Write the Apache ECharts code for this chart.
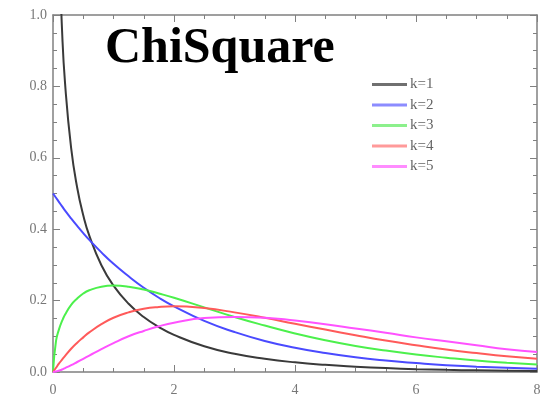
<!DOCTYPE html>
<html>
<head>
<meta charset="utf-8">
<script src="https://cdn.jsdelivr.net/npm/echarts@6/dist/echarts.min.js"></script>
<style>
  html, body { margin: 0; padding: 0; background: #fff; }
  #chart { width: 544px; height: 394px; }
</style>
</head>
<body>
<div id="chart"></div>
<script>
const xs = [0, 0.05, 0.1, 0.15, 0.2, 0.3, 0.4, 0.5, 0.6, 0.8, 1, 1.25, 1.5, 1.75, 2,
  2.5, 3, 3.5, 4, 4.5, 5, 5.5, 6, 6.5, 7, 7.5, 8]

const k1 = [null, null, 1.2, 0.956, 0.807, 0.627, 0.516, 0.439, 0.382, 0.299, 0.242, 0.191,
  0.154, 0.126, 0.104, 0.072, 0.051, 0.037, 0.027, 0.020, 0.015, 0.011, 0.008, 0.006,
  0.0046, 0.0034, 0.0026]
const k2 = [0.5, 0.488, 0.476, 0.464, 0.452, 0.430, 0.409, 0.389, 0.370, 0.335, 0.303, 0.268,
  0.236, 0.208, 0.184, 0.143, 0.112, 0.087, 0.068, 0.053, 0.041, 0.032, 0.025, 0.019,
  0.015, 0.012, 0.009]
const k3 = [0, 0.087, 0.120, 0.143, 0.161, 0.188, 0.206, 0.220, 0.229, 0.239, 0.242, 0.239,
  0.231, 0.220, 0.208, 0.181, 0.154, 0.130, 0.108, 0.089, 0.073, 0.060, 0.049, 0.040,
  0.032, 0.026, 0.021]
const k4 = [0, 0.012, 0.024, 0.035, 0.045, 0.065, 0.082, 0.097, 0.111, 0.134, 0.152, 0.167,
  0.177, 0.182, 0.184, 0.179, 0.167, 0.152, 0.135, 0.119, 0.103, 0.088, 0.075, 0.063,
  0.053, 0.044, 0.037]
const k5 = [0, 0.0015, 0.004, 0.007, 0.011, 0.019, 0.028, 0.037, 0.046, 0.064, 0.081, 0.100,
  0.115, 0.128, 0.138, 0.151, 0.154, 0.152, 0.144, 0.134, 0.122, 0.110, 0.097, 0.086,
  0.075, 0.064, 0.056]

const names = ['k=1', 'k=2', 'k=3', 'k=4', 'k=5']
const colors = ['#3a3a3a', '#4a4aff', '#4cf04c', '#ff5a5a', '#ff52ff']
const legendColors = ['#707070', '#8c8cff', '#8cf08c', '#ff9a9a', '#ff8cff']
const seriesData = [k1, k2, k3, k4, k5]

const axisGray = '#808080'
const font = 'Liberation Serif'

const tickSet = {
  axisLine: { show: true, onZero: false, lineStyle: { color: axisGray, width: 1.5 } },
  axisTick: { show: true, inside: true, length: 7, lineStyle: { color: axisGray } },
  minorTick: { show: true, splitNumber: 4, length: 4, lineStyle: { color: axisGray } },
  splitLine: { show: false },
}

let option = {
  animation: false,
  title: {
    text: 'ChiSquare',
    left: 100,
    top: 19,
    textStyle: { fontFamily: font, fontWeight: 'bold', fontSize: 50, color: '#000' },
  },
  legend: {
    orient: 'vertical',
    left: 372,
    top: 77,
    padding: 0,
    icon: 'rect',
    itemWidth: 35,
    itemHeight: 3,
    itemGap: 5.5,
    textStyle: { fontFamily: font, fontSize: 15, color: '#666', padding: [0, 0, 0, -2] },
    data: names.map((n, i) => ({ name: n, itemStyle: { color: legendColors[i] } })),
  },
  grid: { left: 53, right: 7, top: 15, bottom: 22, outerBoundsMode: 'none' },
  xAxis: [
    {
      type: 'value', min: 0, max: 8, interval: 2, position: 'bottom',
      axisLabel: { color: '#777', fontFamily: font, fontSize: 14, margin: 11 },
      ...tickSet,
    },
    {
      type: 'value', min: 0, max: 8, interval: 2, position: 'top',
      axisLabel: { show: false },
      ...tickSet,
    },
  ],
  yAxis: [
    {
      type: 'value', min: 0, max: 1, interval: 0.2, position: 'left',
      axisLabel: {
        color: '#777', fontFamily: font, fontSize: 14, margin: 6,
        formatter: (v) => v.toFixed(1),
      },
      ...tickSet,
    },
    {
      type: 'value', min: 0, max: 1, interval: 0.2, position: 'right',
      axisLabel: { show: false },
      ...tickSet,
    },
  ],
  series: seriesData.map((d, i) => ({
    name: names[i],
    type: 'line',
    smooth: true,
    showSymbol: false,
    symbol: 'none',
    clip: true,
    color: colors[i],
    lineStyle: { width: 2, color: colors[i] },
    data: xs.map((x, j) => [x, d[j]]).filter((p) => p[1] !== null),
  })),
}

const chart = echarts.init(document.getElementById('chart'))
chart.setOption(option)
</script>
</body>
</html>
